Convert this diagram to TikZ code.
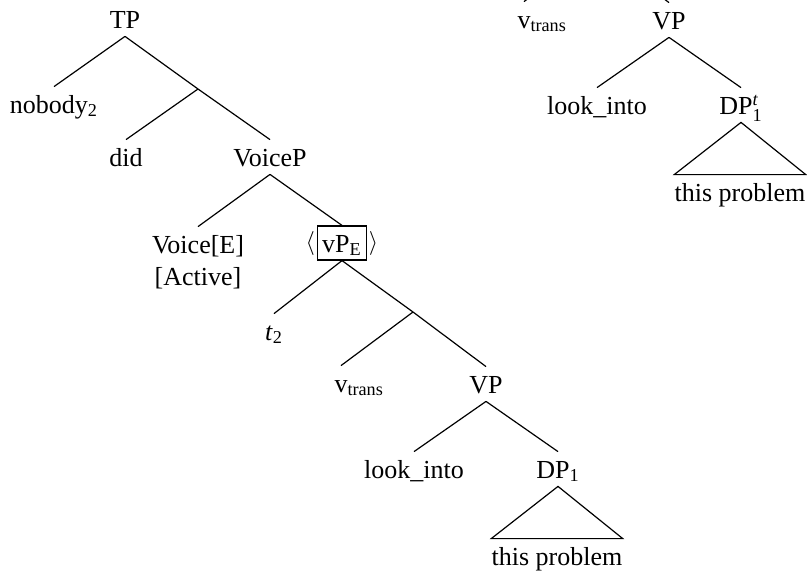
\documentclass[tikz,border=0pt]{standalone}
\usepackage{fontspec}
\setmainfont{Liberation Serif}
\usepackage{amsmath}

\begin{document}
\begin{tikzpicture}[x=0.5pt, y=-0.5pt,
    word/.style={anchor=base, inner xsep=0pt, inner ysep=0pt, text height=13pt, text depth=4pt, font=\fontsize{13}{15}\selectfont},
    branch/.style={line width=0.6pt}]
            \useasboundingbox (0,0) rectangle (807,573);
            \clip (0,0) rectangle (807,573);

            % main tree
            \node[word] (TP)      at (125,28)  {TP};
            \node[word] (nobody)  at (54,113)  {nobody\textsubscript{2}};
            \coordinate (Tbar)    at (198,89);
            \node[word] (did)     at (126,166) {did};
            \node[word] (VoiceP)  at (270,166) {VoiceP};
            \node[word] (Voice)   at (198,253) {Voice[E]};
            \node[word] (Active)  at (198,285) {[Active]};
            \node[word, draw, line width=0.6pt, inner xsep=2.5pt,
                  label={[inner sep=0.6pt, font=\fontsize{13}{15}\selectfont]west:$\langle$},
                  label={[inner sep=0.6pt, font=\fontsize{13}{15}\selectfont]east:$\rangle$}]
                        (vPE)     at (342,252) {vP\textsubscript{E}};
            \node[word] (trace)   at (274,340) {\textit{t}\textsubscript{2}};
            \coordinate (vbar)    at (413,312);
            \node[word] (vtrans)  at (341,392) {v\rlap{\textsubscript{trans}}};
            \node[word] (VP)      at (486,393) {VP};
            \node[word] (look)    at (414,478) {look\_into};
            \node[word] (DP)      at (558,478) {DP\textsubscript{1}};
            \node[word] (prob)    at (557,565) {this problem};

            \draw[branch] (TP.south) -- (nobody.north);
            \draw[branch] (TP.south) -- (Tbar) -- (VoiceP.north);
            \draw[branch] (Tbar) -- (did.north);
            \draw[branch] (VoiceP.south) -- (Voice.north);
            \draw[branch] (VoiceP.south) -- (vPE.north);
            \draw[branch] (vPE.south) -- (trace.north);
            \draw[branch] (vPE.south) -- (vbar) -- (VP.north);
            \draw[branch] (vbar) -- (vtrans.north);
            \draw[branch] (VP.south) -- (look.north);
            \draw[branch] (VP.south) -- (DP.north);
            \draw[branch] (DP.south) -- (prob.north west) -- (prob.north east) -- cycle;% roof

            % second tree, cut by the top edge
            \coordinate (vbarB)   at (596,-52);
            \node[word] (vtransB) at (524,28)  {v\rlap{\textsubscript{trans}}};
            \node[word] (VPB)     at (669,29)  {VP};
            \node[word] (lookB)   at (597,114) {look\_into};
            \node[word] (DPB)     at (741,114) {DP$^{\textit{t}}_{\text{1}}$};
            \node[word] (probB)   at (740,201) {this problem};

            \draw[branch] (vbarB) -- (vtransB.north);
            \draw[branch] (vbarB) -- (VPB.north);
            \draw[branch] (VPB.south) -- (lookB.north);
            \draw[branch] (VPB.south) -- (DPB.north);
            \draw[branch] (DPB.south) -- (probB.north west) -- (probB.north east) -- cycle;% roof
        \end{tikzpicture}
\end{document}
